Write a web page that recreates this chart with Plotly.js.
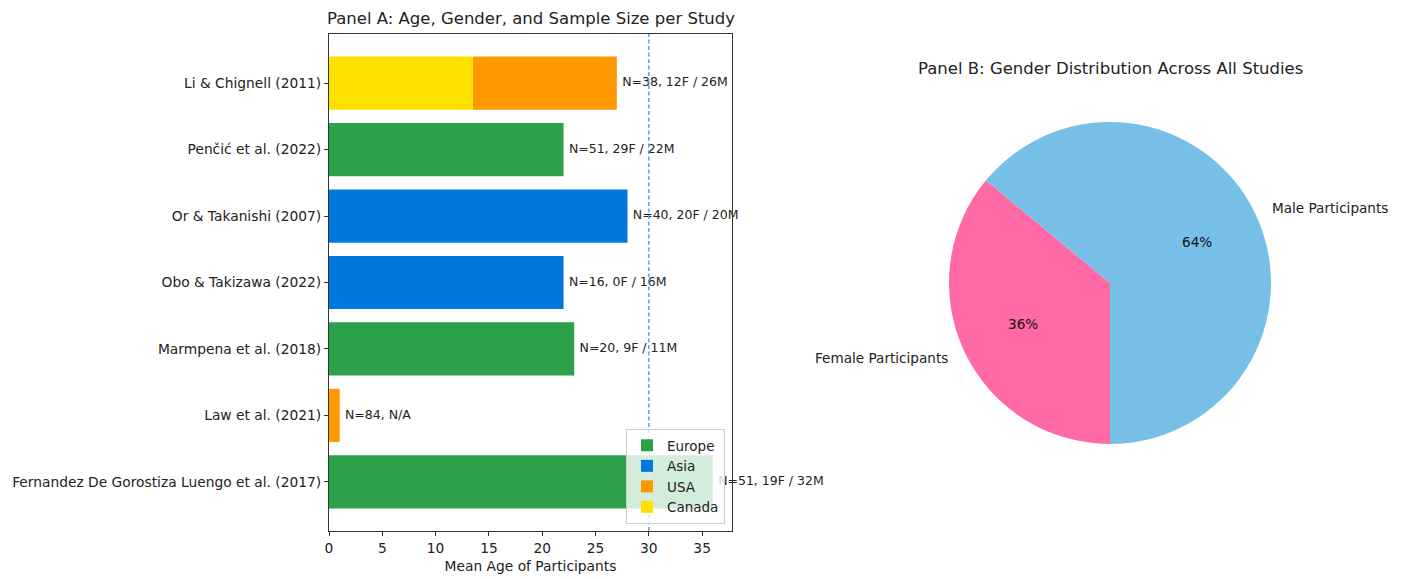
<!DOCTYPE html>
<html>
<head>
<meta charset="utf-8">
<script src="https://cdn.plot.ly/plotly-3.0.1.min.js"></script>
<style>html,body{margin:0;padding:0;background:#fff;}#chart{width:1404px;height:579px;}</style>
</head>
<body>
<div id="chart"></div>
<script>
// ---- Data (bottom to top, as drawn) ----
const studies = [
  "Fernandez De Gorostiza Luengo et al. (2017)",
  "Law et al. (2021)",
  "Marmpena et al. (2018)",
  "Obo & Takizawa (2022)",
  "Or & Takanishi (2007)",
  "Penčić et al. (2022)",
  "Li & Chignell (2011)"
];
const meanAge = [36, 1, 23, 22, 28, 22, 27];
const regions = ["Europe", "USA", "Europe", "Asia", "Asia", "Europe", "Canada/USA"];
const sampleN = [51, 84, 20, 16, 40, 51, 38];
const femaleN = [19, null, 9, 0, 20, 29, 12];
const maleN   = [32, null, 11, 16, 20, 22, 26];

const regionOrder = ["Europe", "Asia", "USA", "Canada"];
const regionColors = {Europe: "#2ca149", Asia: "#0078de", USA: "#ff9900", Canada: "#ffe100"};
const referenceAge = 30;

const genderLabels = ["Female Participants", "Male Participants"];
const genderShare  = [36, 64];
const genderColors = ["#ff6aa6", "#76c0e8"];

// ---- Build bar traces per region (split multi-region studies) ----
const perRegion = {};
regionOrder.forEach(r => perRegion[r] = {x: [], y: [], base: []});
studies.forEach((s, i) => {
  const parts = regions[i].split("/");
  const share = meanAge[i] / parts.length;
  parts.forEach((r, k) => {
    perRegion[r].x.push(share);
    perRegion[r].y.push(s);
    perRegion[r].base.push(share * k);
  });
});

const FONT = "DejaVu Sans, sans-serif";
const traces = regionOrder.map(r => ({
  type: "bar", orientation: "h", name: r,
  x: perRegion[r].x, y: perRegion[r].y, base: perRegion[r].base,
  marker: {color: regionColors[r]}, width: 0.8,
  xaxis: "x", yaxis: "y", hoverinfo: "skip"
}));

const labelText = studies.map((s, i) =>
  femaleN[i] === null ? `N=${sampleN[i]}, N/A` : `N=${sampleN[i]}, ${femaleN[i]}F / ${maleN[i]}M`);
traces.push({
  type: "scatter", mode: "text", x: meanAge.map(a => a + 0.5), y: studies,
  text: labelText, textposition: "middle right",
  textfont: {family: FONT, size: 12.5, color: "#222"},
  showlegend: false, hoverinfo: "skip", cliponaxis: false, xaxis: "x", yaxis: "y"
});

// pie geometry (paper px)
const PIE_CX = 1110, PIE_CY = 283, PIE_R = 161;
traces.push({
  type: "pie", labels: genderLabels, values: genderShare, sort: false,
  direction: "clockwise", rotation: 180,
  marker: {colors: genderColors}, textinfo: "none",
  domain: {x: [(PIE_CX - PIE_R)/1404, (PIE_CX + PIE_R)/1404], y: [1 - (PIE_CY + PIE_R)/579, 1 - (PIE_CY - PIE_R)/579]},
  showlegend: false, hoverinfo: "skip"
});

// percentage + label annotations placed at slice mid-angles (matplotlib style)
const total = genderShare.reduce((a, b) => a + b, 0);
const pieAnn = [];
let startDeg = 270; // 6 o'clock, going clockwise
genderShare.forEach((v, i) => {
  const span = v / total * 360;
  const mid = (startDeg - span / 2) * Math.PI / 180;
  startDeg -= span;
  const c = Math.cos(mid), s = Math.sin(mid);
  pieAnn.push({
    text: Math.round(v / total * 100) + "%", xref: "paper", yref: "paper",
    x: (PIE_CX + 0.6 * PIE_R * c) / 1404, y: 1 - (PIE_CY - 0.6 * PIE_R * s) / 579,
    xanchor: "center", yanchor: "middle", showarrow: false,
    font: {family: FONT, size: 13.6, color: "#111"}
  });
  pieAnn.push({
    text: genderLabels[i], xref: "paper", yref: "paper",
    x: (PIE_CX + 1.1 * PIE_R * c) / 1404, y: 1 - (PIE_CY - 1.1 * PIE_R * s) / 579,
    xanchor: c >= 0 ? "left" : "right", yanchor: "middle", showarrow: false,
    font: {family: FONT, size: 13.6, color: "#222"}
  });
});

const layout = {
  width: 1404, height: 579,
  margin: {l: 0, r: 0, t: 0, b: 0},
  paper_bgcolor: "#fff", plot_bgcolor: "#fff",
  font: {family: FONT, size: 13.8, color: "#222"},
  barmode: "overlay",
  hovermode: false,
  xaxis: {
    domain: [329/1404, 732/1404], anchor: "y",
    range: [0, 37.8], dtick: 5, tick0: 0,
    showgrid: false, zeroline: false, showline: true, mirror: true,
    linecolor: "#333", linewidth: 1, ticks: "outside", ticklen: 4, tickcolor: "#333",
    tickfont: {family: FONT, size: 13.8, color: "#222"},
    title: {text: "Mean Age of Participants", font: {family: FONT, size: 13.8, color: "#222"}, standoff: 6}
  },
  yaxis: {
    domain: [1 - 531/579, 1 - 34/579], anchor: "x",
    type: "category", categoryorder: "array", categoryarray: studies,
    range: [-0.74, 6.74],
    showgrid: false, zeroline: false, showline: true, mirror: true,
    linecolor: "#333", linewidth: 1, ticks: "outside", ticklen: 4, tickcolor: "#333",
    tickfont: {family: FONT, size: 13.8, color: "#222"}
  },
  shapes: [{
    type: "line", xref: "x", yref: "paper", x0: referenceAge, x1: referenceAge,
    y0: 1 - 531/579, y1: 1 - 34/579,
    line: {color: "#5aa6de", width: 1.5, dash: "4px,2.5px"}
  }],
  legend: {
    x: 725/1404, xanchor: "right", y: 1 - 524/579, yanchor: "bottom",
    bgcolor: "rgba(255,255,255,0.8)", bordercolor: "#ccc", borderwidth: 1,
    font: {family: FONT, size: 13.5, color: "#222"}, traceorder: "normal",
    itemwidth: 30, tracegroupgap: 0
  },
  annotations: [
    {text: "Panel A: Age, Gender, and Sample Size per Study", xref: "paper", yref: "paper",
     x: (329 + 732) / 2 / 1404, y: 1 - 18/579, xanchor: "center", yanchor: "middle", showarrow: false,
     font: {family: FONT, size: 16.5, color: "#222"}},
    {text: "Panel B: Gender Distribution Across All Studies", xref: "paper", yref: "paper",
     x: PIE_CX/1404, y: 1 - 68/579, xanchor: "center", yanchor: "middle", showarrow: false,
     font: {family: FONT, size: 16.5, color: "#222"}}
  ].concat(pieAnn)
};

Plotly.newPlot("chart", traces, layout, {displayModeBar: false, staticPlot: true});
</script>
</body>
</html>
